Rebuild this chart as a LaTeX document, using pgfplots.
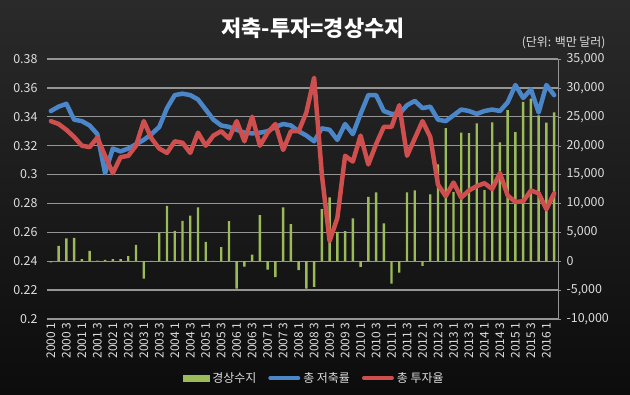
\documentclass[border=0pt]{standalone}
\usepackage{fontspec}
\setmainfont{Noto Sans CJK KR}
\usepackage{pgfplots}
\usepackage{pgfplotstable}
\pgfplotsset{compat=1.18}
\definecolor{bgtop}{HTML}{2A2A2A}
\definecolor{bgbot}{HTML}{0C0C0C}
\definecolor{cgreen}{HTML}{9BBB59}
\definecolor{cblue}{HTML}{4A86C8}
\definecolor{cred}{HTML}{CF4F4F}
\definecolor{gridc}{HTML}{959595}
\definecolor{txt}{HTML}{DDDDDD}

\pgfplotstableread{
i bal sav inv
0 -200 0.344 0.337
1 2650 0.347 0.335
2 3950 0.349 0.331
3 4050 0.338 0.326
4 350 0.337 0.320
5 1800 0.334 0.319
6 100 0.328 0.3255
7 230 0.301 0.313
8 350 0.318 0.301
9 350 0.316 0.312
10 870 0.318 0.313
11 2830 0.321 0.320
12 -3000 0.324 0.337
13 50 0.328 0.325
14 4900 0.333 0.318
15 9600 0.346 0.315
16 5250 0.355 0.323
17 6980 0.356 0.322
18 7900 0.355 0.315
19 9340 0.352 0.329
20 3340 0.345 0.320
21 50 0.338 0.327
22 2420 0.334 0.330
23 6920 0.333 0.325
24 -4730 0.331 0.337
25 -920 0.329 0.323
26 1150 0.3285 0.340
27 7960 0.329 0.320
28 -1440 0.330 0.329
29 -2770 0.333 0.335
30 9340 0.335 0.317
31 6400 0.334 0.330
32 -1560 0.330 0.330
33 -4750 0.327 0.343
34 -4450 0.323 0.367
35 9000 0.332 0.300
36 11050 0.331 0.254
37 5100 0.324 0.270
38 5200 0.335 0.313
39 7400 0.328 0.309
40 -980 0.342 0.327
41 11130 0.355 0.307
42 11900 0.355 0.321
43 6550 0.344 0.333
44 -3860 0.342 0.333
45 -1960 0.342 0.348
46 11900 0.348 0.313
47 12250 0.351 0.325
48 -800 0.346 0.337
49 11550 0.347 0.326
50 16780 0.338 0.293
51 23030 0.337 0.285
52 12000 0.341 0.2945
53 22250 0.345 0.284
54 22150 0.344 0.289
55 23850 0.342 0.292
56 12300 0.344 0.294
57 24050 0.345 0.290
58 20550 0.344 0.301
59 26130 0.350 0.2855
60 22330 0.362 0.281
61 27570 0.353 0.2815
62 28140 0.359 0.289
63 25260 0.343 0.287
64 24000 0.362 0.276
65 25750 0.355 0.287
}\datatable

\begin{document}
\begin{tikzpicture}[x=1bp,y=1bp]
\shade[top color=bgtop,bottom color=bgbot] (0,0) rectangle (630,394);
\path[use as bounding box] (0,0) rectangle (630,394);
\node[text=white,font=\fontsize{22}{24}\selectfont\bfseries] at (313,366) {저축-투자=경상수지};
\node[text=txt,font=\fontsize{12}{14}\selectfont,anchor=east] at (609,351) {(단위: 백만 달러)};

% bars, right axis
\begin{axis}[
  at={(47bp,75bp)}, anchor=south west, scale only axis,
  width=511bp, height=260bp,
  xmin=-0.5, xmax=65.5, ymin=-10000, ymax=35000,
  hide x axis,
  axis y line*=right,
  axis line style={draw=gridc, line width=0.8bp},
  ytick={-10000,-5000,...,35000},
  ymajorgrids,
  grid style={draw=gridc, line width=1.3bp},
  major tick style={draw=gridc},
  tick align=outside, major tick length=3bp,
  scaled y ticks=false,
  /pgf/number format/assume math mode=true,
  /pgf/number format/.cd, fixed, 1000 sep={,},
  /pgfplots/.cd,
  yticklabel style={text=txt, font=\fontsize{12.5}{14}\selectfont, anchor=west, xshift=2bp},
  ybar, bar width=2.4bp,
]
\addplot[fill=cgreen, draw=none] table[x=i, y=bal] {\datatable};
\end{axis}

% lines, left axis
\begin{axis}[
  at={(47bp,75bp)}, anchor=south west, scale only axis,
  width=511bp, height=260bp,
  xmin=-0.5, xmax=65.5, ymin=0.2, ymax=0.38,
  axis line style={draw=none},
  ytick={0.2,0.22,...,0.381},
  major tick length=0pt,
  /pgf/number format/assume math mode=true,
  yticklabel style={text=txt, font=\fontsize{12.5}{14}\selectfont, anchor=east, xshift=-6bp,
    /pgf/number format/.cd, fixed, precision=2},
  xtick={0,2,...,64},
  xticklabels={2000 1,2000 3,2001 1,2001 3,2002 1,2002 3,2003 1,2003 3,2004 1,2004 3,2005 1,2005 3,2006 1,2006 3,2007 1,2007 3,2008 1,2008 3,2009 1,2009 3,2010 1,2010 3,2011 1,2011 3,2012 1,2012 3,2013 1,2013 3,2014 1,2014 3,2015 1,2015 3,2016 1},
  xticklabel style={text=txt, font=\fontsize{12}{14}\selectfont, rotate=90, anchor=east},
  legend style={at={(0.523,-0.227)}, anchor=center, draw=none, fill=none,
    text=txt, font=\fontsize{12}{14}\selectfont, legend columns=3,
    /tikz/every even column/.append style={column sep=10bp},
    /tikz/every odd column/.append style={column sep=1bp}},
  legend cell align=left,
]
\addlegendimage{legend image code/.code={\fill[cgreen] (0bp,-3bp) rectangle (26bp,3bp);}}
\addlegendentry{경상수지}
\addplot[cblue, line width=4.5bp, line join=round, line cap=round,
  legend image code/.code={\draw[cblue, line width=4bp, line cap=round] (0bp,0bp) -- (28bp,0bp);}]
  table[x=i, y=sav] {\datatable};
\addlegendentry{총 저축률}
\addplot[cred, line width=4.5bp, line join=round, line cap=round,
  legend image code/.code={\draw[cred, line width=4bp, line cap=round] (0bp,0bp) -- (28bp,0bp);}]
  table[x=i, y=inv] {\datatable};
\addlegendentry{총 투자율}
\end{axis}
\end{tikzpicture}
\end{document}
